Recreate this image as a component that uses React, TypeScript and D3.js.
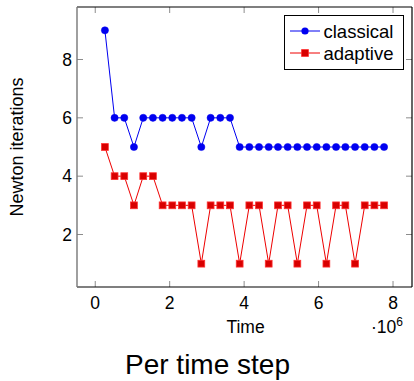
import React from "react";
import * as d3 from "d3";

const times = [0.26, 0.52, 0.78, 1.04, 1.29, 1.55, 1.81, 2.07, 2.33, 2.59, 2.85, 3.10, 3.36, 3.62, 3.88, 4.14, 4.40, 4.66, 4.91, 5.17, 5.43, 5.69, 5.95, 6.21, 6.47, 6.72, 6.98, 7.24, 7.50, 7.76];
const classical = [9, 6, 6, 5, 6, 6, 6, 6, 6, 6, 5, 6, 6, 6, 5, 5, 5, 5, 5, 5, 5, 5, 5, 5, 5, 5, 5, 5, 5, 5];
const adaptive = [5, 4, 4, 3, 4, 4, 3, 3, 3, 3, 1, 3, 3, 3, 1, 3, 3, 1, 3, 3, 1, 3, 3, 1, 3, 3, 1, 3, 3, 3];
const xTicks = [0, 2, 4, 6, 8];
const yTicks = [2, 4, 6, 8];
const seriesNames = ["classical", "adaptive"];

const W = 414, H = 381;
const L = 77, R = 412, T = 7, B = 287;
const FONT = "'Liberation Sans', Arial, Helvetica, sans-serif";

export default function App() {
  const xmin = d3.min(times)!, xmax = d3.max(times)!;
  const xr = xmax - xmin;
  const allY = [...classical, ...adaptive];
  const ymin = d3.min(allY)!, ymax = d3.max(allY)!;
  const yr = ymax - ymin;
  const x = d3.scaleLinear().domain([xmin - 0.1 * xr, xmax + 0.1 * xr]).range([L, R]);
  const y = d3.scaleLinear().domain([ymin - 0.1 * yr, ymax + 0.1 * yr]).range([B, T]);

  const line = d3.line<[number, number]>().x(d => x(d[0])).y(d => y(d[1]));
  const cData = times.map((t, i) => [t, classical[i]] as [number, number]);
  const aData = times.map((t, i) => [t, adaptive[i]] as [number, number]);
  const blue = "#0000f0";
  const red = "#ee0000";
  const tl = 6;
  const tickColor = "#8c8c8c";

  return (
    <svg width={W} height={H} style={{ position: "absolute", left: 0, top: 0, display: "block" }}>
      <rect x={0} y={0} width={W} height={H} fill="white" />
      {/* ticks */}
      {xTicks.map(v => (
        <g key={"xt" + v}>
          <line x1={x(v)} x2={x(v)} y1={B} y2={B - tl} stroke={tickColor} strokeWidth={1} />
          <line x1={x(v)} x2={x(v)} y1={T} y2={T + tl} stroke={tickColor} strokeWidth={1} />
          <text x={x(v)} y={309} textAnchor="middle" fontFamily={FONT} fontSize={17.5} fill="#000">{v}</text>
        </g>
      ))}
      {yTicks.map(v => (
        <g key={"yt" + v}>
          <line x1={L} x2={L + tl} y1={y(v)} y2={y(v)} stroke={tickColor} strokeWidth={1} />
          <line x1={R} x2={R - tl} y1={y(v)} y2={y(v)} stroke={tickColor} strokeWidth={1} />
          <text x={72} y={y(v)} dy="0.36em" textAnchor="end" fontFamily={FONT} fontSize={17.5} fill="#000">{v}</text>
        </g>
      ))}
      {/* series */}
      <path d={line(cData)!} fill="none" stroke={blue} strokeWidth={1} />
      <path d={line(aData)!} fill="none" stroke={red} strokeWidth={1} />
      {cData.map((d, i) => (
        <circle key={"c" + i} cx={x(d[0])} cy={y(d[1])} r={3.6} fill={blue} stroke={blue} strokeWidth={0.5} />
      ))}
      {aData.map((d, i) => (
        <rect key={"a" + i} x={x(d[0]) - 3.4} y={y(d[1]) - 3.4} width={6.8} height={6.8} fill="#d80000" stroke="#ff3030" strokeWidth={0.8} />
      ))}
      {/* frame */}
      <line x1={L} x2={R} y1={T} y2={T} stroke="#000" strokeWidth={1.2} />
      <line x1={L} x2={R} y1={B} y2={B} stroke="#000" strokeWidth={1.2} />
      <line x1={R} x2={R} y1={T} y2={B} stroke="#000" strokeWidth={1.2} />
      <line x1={L} x2={L} y1={T} y2={B} stroke="#777" strokeWidth={1.4} />
      {/* legend */}
      <rect x={284.5} y={15.5} width={119} height={54} fill="white" stroke="#000" strokeWidth={1} />
      {seriesNames.map((name, i) => {
        const cy = 31 + i * 22;
        const col = i === 0 ? blue : red;
        return (
          <g key={name}>
            <line x1={290} x2={320} y1={cy} y2={cy} stroke={col} strokeWidth={1} />
            {i === 0 ? (
              <circle cx={305} cy={cy} r={3.6} fill={blue} />
            ) : (
              <rect x={305 - 3.4} y={cy - 3.4} width={6.8} height={6.8} fill="#d80000" stroke="#ff3030" strokeWidth={0.8} />
            )}
            <text x={323.5} y={cy + 6.5} fontFamily={FONT} fontSize={18.5} fill="#000">{name}</text>
          </g>
        );
      })}
      {/* axis labels */}
      <text x={245.5} y={333} textAnchor="middle" fontFamily={FONT} fontSize={17.5} fill="#000">Time</text>
      <text x={403} y={333} textAnchor="end" fontFamily={FONT} fontSize={17.5} fill="#000">
        ·10<tspan fontSize={12} dy={-7}>6</tspan>
      </text>
      <text transform={`translate(23, ${(T + B) / 2}) rotate(-90)`} textAnchor="middle" fontFamily={FONT} fontSize={18} fill="#000">Newton iterations</text>
      <text x={207.5} y={374} textAnchor="middle" fontFamily={FONT} fontSize={28} fill="#000">Per time step</text>
    </svg>
  );
}
